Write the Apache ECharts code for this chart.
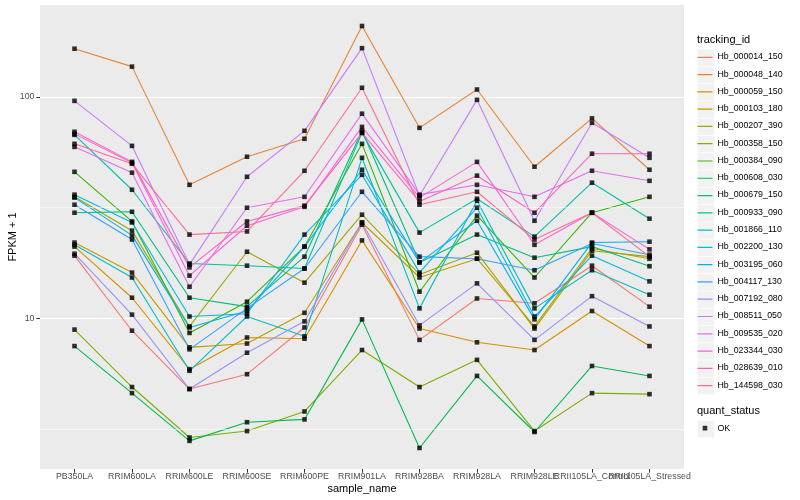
<!DOCTYPE html>
<html><head><meta charset="utf-8">
<script src="https://cdn.jsdelivr.net/npm/echarts/dist/echarts.min.js"></script>
<style>html,body{margin:0;padding:0;background:#fff}#c{width:800px;height:500px}</style>
</head><body><div id="c"></div>
<script>
const categories = ['PB350LA','RRIM600LA','RRIM600LE','RRIM600SE','RRIM600PE','RRIM901LA','RRIM928BA','RRIM928LA','RRIM928LE','RRII105LA_Control','RRII105LA_Stressed'];
const seriesNames = ['Hb_000014_150','Hb_000048_140','Hb_000059_150','Hb_000103_180','Hb_000207_390','Hb_000358_150','Hb_000384_090','Hb_000608_030','Hb_000679_150','Hb_000933_090','Hb_001866_110','Hb_002200_130','Hb_003195_060','Hb_004117_130','Hb_007192_080','Hb_008511_050','Hb_009535_020','Hb_023344_030','Hb_028639_010','Hb_144598_030'];
const seriesColors = ['#F8766D','#EA8331','#D89000','#C09B00','#A3A500','#7CAE00','#39B600','#00BB4E','#00BF7D','#00C1A3','#00BFC4','#00BAE0','#00B0F6','#35A2FF','#9590FF','#C77CFF','#E76BF3','#FA62DB','#FF62BC','#FF6C91'];

const Hb_000014_150 = [19.2, 8.8, 4.8, 5.6, 9.1, 26.5, 8.0, 12.3, 11.7, 17.3, 11.3];
const Hb_000048_140 = [165, 137, 40.1, 53.7, 64.7, 209, 72.5, 108, 48.4, 80, 46.9];
const Hb_000059_150 = [21.1, 12.4, 5.9, 8.2, 8.1, 22.5, 9.0, 7.8, 7.2, 10.8, 7.5];
const Hb_000103_180 = [22.0, 16.1, 7.4, 7.7, 10.6, 27.1, 15.3, 18.6, 9.2, 20.7, 18.6];
const Hb_000207_390 = [35.4, 24.9, 9.2, 20.0, 14.5, 29.4, 15.8, 19.8, 9.0, 20.2, 19.0];
const Hb_000358_150 = [8.9, 4.9, 2.9, 3.1, 3.8, 7.2, 4.9, 6.5, 3.1, 4.6, 4.55];
const Hb_000384_090 = [45.9, 27.4, 8.6, 11.9, 21.1, 61.4, 13.2, 29.1, 15.3, 30.0, 35.4];
const Hb_000608_030 = [7.5, 4.6, 2.8, 3.4, 3.5, 9.9, 2.6, 5.5, 3.07, 6.1, 5.5];
const Hb_000679_150 = [30.0, 30.3, 12.4, 11.3, 19.0, 70.3, 17.9, 23.9, 18.8, 21.1, 17.2];
const Hb_000933_090 = [67.4, 38.1, 17.7, 17.3, 16.8, 68.8, 24.4, 34.7, 23.4, 41.0, 28.2];
const Hb_001866_110 = [21.5, 15.3, 5.8, 10.2, 8.3, 53.1, 11.1, 34.0, 11.1, 16.5, 12.8];
const Hb_002200_130 = [36.2, 27.1, 10.2, 10.5, 23.9, 44.5, 16.1, 31.6, 10.2, 19.2, 14.7];
const Hb_003195_060 = [35.1, 23.7, 9.1, 10.8, 21.1, 46.9, 17.9, 27.6, 9.9, 22.0, 22.2];
const Hb_004117_130 = [32.6, 22.7, 7.25, 11.1, 16.8, 37.3, 19.0, 18.6, 16.5, 21.8, 19.4];
const Hb_007192_080 = [19.6, 10.4, 4.8, 7.0, 9.7, 27.1, 9.3, 14.4, 8.0, 12.6, 9.2];
const Hb_008511_050 = [96, 60.1, 17.5, 43.6, 70.3, 166, 35.8, 97, 27.6, 76.4, 53.1];
const Hb_009535_020 = [59.5, 45.5, 13.9, 31.6, 35.4, 84, 36.2, 40.1, 35.4, 46.4, 41.8];
const Hb_023344_030 = [68.1, 50.4, 15.6, 26.2, 31.9, 73.2, 35.1, 50.9, 21.5, 30.0, 20.5];
const Hb_028639_010 = [69.6, 50.9, 17.0, 27.4, 32.3, 68.8, 33.7, 44.1, 30.0, 55.4, 55.4];
const Hb_144598_030 = [61.4, 49.9, 23.9, 24.7, 46.4, 110, 32.6, 37.3, 22.7, 30.0, 19.0];

const seriesValues = [Hb_000014_150,Hb_000048_140,Hb_000059_150,Hb_000103_180,Hb_000207_390,Hb_000358_150,Hb_000384_090,Hb_000608_030,Hb_000679_150,Hb_000933_090,Hb_001866_110,Hb_002200_130,Hb_003195_060,Hb_004117_130,Hb_007192_080,Hb_008511_050,Hb_009535_020,Hb_023344_030,Hb_028639_010,Hb_144598_030];

const yMin = 2.09, yMax = 260;
const yBreaks = [10, 100];
const minorBreaks = [3.1623, 31.623];
const quantStatus = ['OK'];

const FONT = "'Liberation Sans', Arial, Helvetica, sans-serif";
const chart = echarts.init(document.getElementById('c'), null, {renderer: 'canvas'});

const series = [];
series.push({
  type: 'line', xAxisIndex: 0, yAxisIndex: 0, data: [], z: 1, silent: true,
  markLine: {
    silent: true, symbol: ['none', 'none'], label: {show: false}, animation: false,
    lineStyle: {color: '#ffffff', width: 0.55, type: 'solid'},
    emphasis: {disabled: true},
    data: minorBreaks.map(v => ({yAxis: v}))
  }
});
seriesNames.forEach((name, k) => {
  series.push({
    name: name, type: 'line', xAxisIndex: 1, yAxisIndex: 1, z: 3,
    data: seriesValues[k], showSymbol: false, symbol: 'none',
    color: seriesColors[k],
    lineStyle: {width: 1.1, color: seriesColors[k]},
    emphasis: {disabled: true}, silent: true
  });
});
const pts = [];
seriesValues.forEach(arr => arr.forEach((v, i) => pts.push([i, v])));
series.push({
  name: quantStatus[0], type: 'scatter', xAxisIndex: 1, yAxisIndex: 1, z: 5,
  data: pts, symbol: 'rect', symbolSize: 4.6, itemStyle: {color: '#000000'},
  silent: true, emphasis: {disabled: true}
});

const lineIcon = 'path://M0,0h0.01v0.01h-0.01z M0,7.4h15v1.2h-15z M14.99,14.99h0.01v0.01h-0.01z';
const dotIcon = 'path://M0,0h0.01v0.01h-0.01z M5.2,5.2h4.6v4.6h-4.6z M14.99,14.99h0.01v0.01h-0.01z';

const keyStep = 17.28, keyTop = 48.8;
const keyRects = [];
for (let i = 0; i < seriesNames.length; i++) {
  keyRects.push({type: 'rect', left: 697, top: keyTop + i * keyStep, shape: {width: keyStep, height: keyStep}, style: {fill: '#F2F2F2', stroke: '#ffffff', lineWidth: 0.6}, silent: true, z: 0});
}
keyRects.push({type: 'rect', left: 697, top: 420, shape: {width: keyStep, height: keyStep}, style: {fill: '#F2F2F2', stroke: '#ffffff', lineWidth: 0.6}, silent: true, z: 0});

const option = {
  animation: false,
  backgroundColor: '#ffffff',
  textStyle: {fontFamily: FONT},
  title: [
    {text: 'tracking_id', left: 697, top: 34.5, padding: 0, textStyle: {fontSize: 11, fontWeight: 'normal', color: '#000', fontFamily: FONT}},
    {text: 'quant_status', left: 697, top: 405.5, padding: 0, textStyle: {fontSize: 11, fontWeight: 'normal', color: '#000', fontFamily: FONT}}
  ],
  graphic: keyRects,
  legend: [
    {data: seriesNames.map(n => ({name: n, icon: lineIcon})), orient: 'vertical', left: 697.5, top: keyTop + 0.5, padding: 0,
     itemWidth: 15, itemHeight: 17, itemGap: 2.28, selectedMode: false,
     itemStyle: {borderWidth: 0},
     textStyle: {fontSize: 8.8, color: '#000', fontFamily: FONT}},
    {data: quantStatus.map(n => ({name: n, icon: dotIcon})), orient: 'vertical', left: 697.5, top: 420.6, padding: 0,
     itemWidth: 15, itemHeight: 17, selectedMode: false,
     itemStyle: {borderWidth: 0},
     textStyle: {fontSize: 8.8, color: '#000', fontFamily: FONT}}
  ],
  grid: [
    {left: 40, top: 5, width: 644, height: 464, show: true, backgroundColor: '#EBEBEB', borderWidth: 0, containLabel: false, outerBoundsMode: 'none'},
    {left: 45.75, top: 5, width: 632.5, height: 464, show: false, containLabel: false, outerBoundsMode: 'none'}
  ],
  xAxis: [
    {gridIndex: 0, type: 'value', min: 0, max: 1, show: false},
    {gridIndex: 1, type: 'category', data: categories, boundaryGap: true,
     axisLine: {show: false},
     axisTick: {show: true, alignWithLabel: true, length: 3.7, lineStyle: {color: '#333333', width: 1}},
     axisLabel: {interval: 0, margin: 3.5, fontSize: 8.8, color: '#4D4D4D', fontFamily: FONT, hideOverlap: false},
     splitLine: {show: false},
     name: 'sample_name', nameLocation: 'middle', nameGap: 14, nameMoveOverlap: false,
     nameTextStyle: {fontSize: 11, color: '#000', fontFamily: FONT}}
  ],
  yAxis: [
    {gridIndex: 0, type: 'log', logBase: 10, min: yMin, max: yMax,
     axisLine: {show: false},
     axisTick: {show: true, length: 3.7, customValues: yBreaks, lineStyle: {color: '#333333', width: 1}},
     axisLabel: {margin: 5.5, fontSize: 8.8, color: '#4D4D4D', fontFamily: FONT, customValues: yBreaks,
       formatter: v => { const l = Math.log10(v); return Math.abs(l - Math.round(l)) < 1e-6 ? String(Math.round(v)) : ''; }},
     splitLine: {show: true, lineStyle: {color: '#ffffff', width: 1.1}},
     name: 'FPKM + 1', nameLocation: 'middle', nameGap: 22, nameRotate: 90, nameMoveOverlap: false,
     nameTextStyle: {fontSize: 11, color: '#000', fontFamily: FONT}},
    {gridIndex: 1, type: 'log', logBase: 10, min: yMin, max: yMax, show: false, splitLine: {show: false}}
  ],
  series: series
};
chart.setOption(option);
</script>
</body></html>
